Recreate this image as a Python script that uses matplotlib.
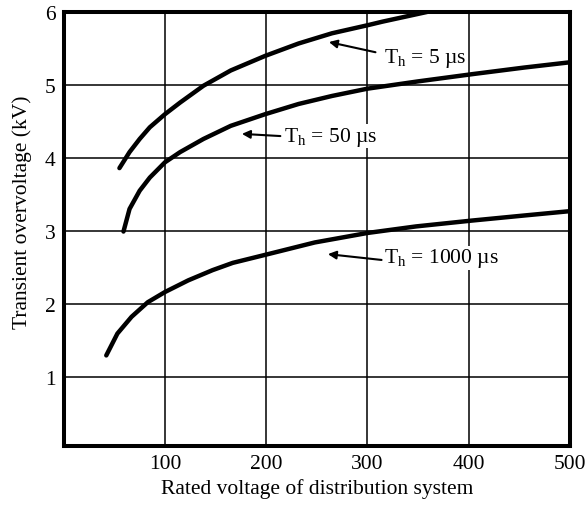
import matplotlib.pyplot as plt

plt.rcParams['font.family'] = ['Liberation Serif', 'DejaVu Serif']
plt.rcParams['mathtext.fontset'] = 'custom'
plt.rcParams['mathtext.rm'] = 'Liberation Serif'

# curve readings (rated voltage, overvoltage kV)
x_5 = [55, 65, 75, 85, 100, 115, 138, 165, 199, 232, 265, 300, 315, 358, 380]
y_5 = [3.86, 4.08, 4.26, 4.42, 4.60, 4.76, 4.99, 5.20, 5.40, 5.57, 5.71, 5.82, 5.87, 6.00, 6.07]

x_50 = [59, 65, 75, 85, 100, 115, 138, 165, 199, 232, 265, 300, 350, 404, 455, 505]
y_50 = [2.99, 3.30, 3.55, 3.73, 3.94, 4.08, 4.26, 4.44, 4.60, 4.74, 4.85, 4.95, 5.05, 5.15, 5.24, 5.32]

x_1000 = [42, 53, 67, 83, 100, 123, 147, 167, 199, 248, 300, 348, 403, 455, 508]
y_1000 = [1.29, 1.59, 1.82, 2.02, 2.16, 2.32, 2.46, 2.56, 2.67, 2.84, 2.97, 3.06, 3.14, 3.21, 3.28]

x_ticks = [100, 200, 300, 400, 500]
y_ticks = [1, 2, 3, 4, 5, 6]

labels = [r'T$_\mathrm{h}$ = 5 µs', r'T$_\mathrm{h}$ = 50 µs', r'T$_\mathrm{h}$ = 1000 µs']
text_pos = [(316, 5.38), (218, 4.30), (316, 2.63)]
arrow_tail = [(308, 5.45), (214, 4.30), (314, 2.60)]
arrow_head = [(262, 5.59), (176, 4.33), (261, 2.68)]

fig = plt.figure(figsize=(5.85, 5.06), dpi=100)
ax = fig.add_axes([0.109, 0.117, 0.865, 0.857])

for xs, ys in [(x_5, y_5), (x_50, y_50), (x_1000, y_1000)]:
    ax.plot(xs, ys, color='black', lw=3.2, solid_capstyle='round',
            solid_joinstyle='round', zorder=3)

for lab, tp, tail, head in zip(labels, text_pos, arrow_tail, arrow_head):
    ax.text(tp[0], tp[1], lab, fontsize=15.5, ha='left', va='center',
            zorder=4, bbox=dict(facecolor='white', edgecolor='none', pad=0.5))
    ax.annotate('', xy=head, xytext=tail,
                arrowprops=dict(arrowstyle='-|>', color='black', lw=1.5,
                                mutation_scale=12, shrinkA=0, shrinkB=0),
                zorder=4)

ax.set_xlim(0, 500)
ax.set_ylim(0.05, 6)
ax.set_xticks(x_ticks)
ax.set_yticks(y_ticks)
ax.tick_params(length=0, labelsize=15.5, pad=6)
ax.grid(True, color='black', lw=1.1)
ax.set_axisbelow(True)
for s in ax.spines.values():
    s.set_linewidth(2.9)

ax.set_xlabel('Rated voltage of distribution system', fontsize=15.5)
ax.set_ylabel('Transient overvoltage (kV)', fontsize=15.5)
ax.xaxis.set_label_coords(0.5, -0.074)
ax.yaxis.set_label_coords(-0.063, 0.54)

fig.savefig('out.png', dpi=100)
